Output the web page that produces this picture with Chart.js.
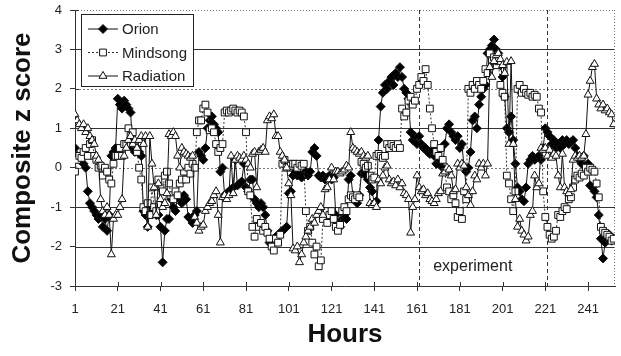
<!DOCTYPE html>
<html>
<head>
<meta charset="utf-8">
<script src="https://cdn.jsdelivr.net/npm/chart.js@4.4.1/dist/chart.umd.min.js"></script>
<style>
  html, body { margin: 0; padding: 0; background: #fff; }
  canvas { display: block; }
</style>
</head>
<body>
<canvas id="chart" width="621" height="356"></canvas>
<script>
//hours on the x axis, one reading per hour
const hours = [];
for (let h = 1; h <= 253; h++) hours.push(h);

const xTickValues = [1, 21, 41, 61, 81, 101, 121, 141, 161, 181, 201, 221, 241];
const experimentHours = [162, 222];

//composite z scores
const orion = [
  0.5, 0.3, 0.2, 0.3, 0.1, 0.0, -0.6, -0.9, -1.0, -1.1,
  -1.2, -1.3, -1.2, -1.5, -1.3, -1.6, -1.2, 0.3, 0.4, 0.5,
  1.75, 1.6, 1.5, 1.7, 1.6, 1.5, 1.4, 0.5, 0.4, 0.5,
  0.4, 0.3, -1.1, -1.2, -1.5, -1.1, -1.0, -1.1, -1.2, -1.2,
  -1.5, -2.4, -1.6, -1.3, -1.3, -0.8, -1.0, -1.1, -0.7, -0.8,
  -0.9, -0.7, -0.8, -1.25, -1.3, -1.4, -1.2, -1.1, 0.4, 0.3,
  0.2, 0.5, 1.0, 1.2, 1.3, 1.1, 1.0, 0.9, -0.1, 0.0,
  -0.7, -0.65, -0.6, -0.55, -0.5, 0.2, -0.45, -0.4, -0.35, 0.1,
  -0.5, -0.6, -0.3, -0.3, -0.8, -0.9, -1.0, -0.9, -1.0, -1.2,
  -1.6, -1.9, -1.85, -1.8, -1.75, -1.7, -1.65, -1.6, -1.55, -1.5,
  -0.65, -0.6, -0.2, -0.1, -0.2, -0.15, -0.25, -0.2, -0.1, -0.2,
  -0.1, 0.4, 0.5, 0.3, -0.2, -0.25, -0.2, -0.3, -0.25, -0.2,
  -0.3, -0.25, -1.2, -1.4, -1.5, -1.3, -1.2, -1.3, -0.3, -0.2,
  -0.7, -0.8, -0.9, -0.7, -0.15, -0.1, -0.2, -0.3, -0.5, -0.6,
  -0.9, -0.85, 0.7, 1.55, 1.9, 2.1, 2.0, 2.2, 2.3, 2.1,
  2.4, 2.3, 2.55, 2.3, 2.0, 1.9, 1.75, 0.9, 0.7, 0.8,
  0.6, 0.8, 0.6, 0.5, 0.5, 0.4, 0.35, 0.45, 0.3, 0.1,
  0.1, 0.2, 0.0, 0.6, 1.0, 1.1, 0.9, 0.8, 0.7, 0.8,
  0.5, 0.6, 0.0, -0.1, 0.0, 0.4, 1.2, 1.3, 1.0, 1.6,
  1.8, 2.0, 2.1, 2.9, 3.0, 3.1, 3.25, 3.0, 2.9, 2.6,
  2.3, 1.8, 1.0, 0.9, 1.3, 0.7, 0.1, -0.5, -0.6, -0.8,
  -0.85, -0.5, 0.1, 0.2, 0.3, 0.2, 0.25, 0.3, 0.2, 0.5,
  1.0, 0.9, 0.8, 0.6, 0.7, 0.5, 0.6, 0.5, 0.7, 0.6,
  0.7, 0.6, 0.65, 0.7, 0.5, 0.3, 0.2, 0.1, 0.3, 0.0,
  0.1, -0.45, -0.5, -0.6, -0.75, -1.2, -1.8, -2.3, -1.9, -1.8,
  -1.7, -1.85, -1.8,
];

const mindsong = [
  -0.1, 0.2, 0.3, 0.25, 0.4, 0.5, 0.3, 0.6, 0.7, 0.3,
  0.2, 0.0, 0.05, -0.2, 0.0, -0.1, -0.3, -0.4, 0.1, 0.3,
  0.3, 0.5, 0.3, 0.6, 0.6, 1.0, 0.8, 0.9, 0.6, 0.4,
  0.0, -0.3, -1.0, -1.1, -0.9, -1.2, -0.5, -1.0, -1.1, -0.3,
  -0.5, -0.6, -0.2, -0.1, -0.4, -0.7, -0.8, -0.6, -0.7, -0.4,
  -0.3, -0.1, -0.3, 0.0, -0.15, 0.1, 0.0, 0.9, 1.2, 1.2,
  1.5, 1.6, 1.4, 0.95, 1.0, 0.9, 0.6, 0.4, 0.5, 0.6,
  1.4, 1.45, 1.4, 1.45, 1.5, 1.45, 1.4, 1.45, 1.4, 1.3,
  0.9, -0.6, -0.7, -1.5, -1.75, -1.3, -1.5, -1.4, -1.6, -1.5,
  -1.65, -1.8, -2.0, -2.1, -1.8, -1.9, -1.7, 0.1, 0.2, 0.0,
  0.1, 0.05, 0.1, 0.1, 0.0, 0.1, 0.05, 0.1, -1.1, -1.6,
  -1.5, -1.9, -2.2, -2.0, -2.5, -2.35, -1.3, -1.1, -1.4, -1.2,
  -1.1, -1.3, -1.5, -1.6, -1.45, -1.1, -1.0, -1.1, -0.8, -0.7,
  -0.75, -0.8, -0.7, -0.75, 0.15, 0.1, 0.0, 0.05, -0.2, -0.3,
  -0.25, 0.3, 0.35, 0.3, 0.25, 0.3, 0.6, 0.5, 0.6, 0.55,
  0.5, 0.6, 0.5, 1.5, 1.3, 1.4, 1.7, 1.8, 1.6, 1.7,
  2.0, 2.1, 2.3, 2.2, 2.5, 2.1, 1.5, 1.0, 0.6, 0.4,
  0.3, 0.5, 0.2, -0.1, -0.5, -0.6, -0.8, -0.7, -0.9, -1.25,
  -1.1, -1.3, -0.6, -0.8, 2.0, 1.9, 2.1, 2.0, 2.2, 2.1,
  2.0, 2.2, 2.5, 2.4, 2.9, 2.7, 2.8, 2.6, 2.7, 2.1,
  1.9, 1.8, -0.2, -0.4, -0.8, -1.1, -0.6, 2.0, 2.1, 1.9,
  2.0, 1.9, 1.85, 1.9, 1.8, 1.85, 1.8, 1.5, 1.4, -0.6,
  -1.25, -1.5, -1.7, -1.8, -1.75, -1.6, -1.2, -1.25, -1.1, -1.0,
  -1.05, -0.8, -0.75, -0.5, -0.3, -0.2, -0.25, -0.15, -0.2, 0.0,
  -0.1, 0.0, -0.05, -0.1, -0.4, -0.75, -1.5, -1.6, -1.65, -1.7,
  -1.75, -1.85, -1.8,
];

const radiation = [
  1.35, 1.2, 1.1, 1.0, 1.1, 0.9, 1.0, 0.8, 0.7, 0.6,
  0.3, 0.2, -0.8, -1.1, -1.2, -1.0, -1.2, -2.2, -1.3, -1.2,
  -1.2, -1.0, -0.8, 0.3, 0.5, 0.7, 0.8, 0.6, 0.7, 0.5,
  0.7, 0.8, 0.6, 0.8, -1.5, 0.8, 0.1, -0.5, -1.2, -0.4,
  -0.8, -1.0, -0.9, -0.65, 0.85, 0.8, 0.9, 0.8, 0.3, 0.0,
  0.5, 0.4, 0.35, 0.3, 0.25, 0.3, -1.25, -1.4, -1.6, -1.5,
  -1.45, -1.1, -1.0, -0.9, -0.85, -0.7, -0.6, -1.2, -1.9, -0.75,
  -0.7, -0.8, -0.7, 0.3, -0.65, 0.2, 0.3, 0.25, 0.2, 0.3,
  0.2, 0.1, 0.0, 0.35, 0.4, -0.5, 0.4, 0.45, 0.5, 0.4,
  1.2, 1.3, 1.25, 1.35, 0.8, 0.8, 0.4, 0.3, 0.2, 0.0,
  -0.4, -0.7, -2.05, -2.1, -2.0, -2.4, -2.2, -1.9, -1.75, -1.6,
  -1.5, -1.3, -1.4, -1.2, -1.1, -1.0, -1.2, -0.55, -0.5, -0.3,
  0.0, -0.3, -0.1, -0.1, -0.15, -0.1, -0.05, 0.05, 0.0, 0.9,
  0.5, 0.45, 0.4, 0.35, 0.4, 0.3, 0.25, 0.3, -0.9, -0.95,
  -0.9, -1.0, -0.3, -0.4, -0.2, 0.0, 0.05, -0.3, -0.4, -0.35,
  -0.45, -0.3, -0.5, -0.4, -0.65, -0.7, -0.8, -1.65, -1.0, -0.8,
  -0.2, -0.5, -0.6, -0.55, -0.7, -0.65, -0.8, -0.85, -0.9, -0.8,
  -0.65, -0.6, -0.15, -0.1, 0.0, -0.05, -0.2, -0.6, -0.55, 0.1,
  0.0, 0.1, 0.05, -0.5, -0.7, -0.95, -0.6, -0.2, -0.3, 0.1,
  0.0, 0.1, -0.2, 0.1, 2.55, 2.3, 2.7, 2.85, 2.9, 2.75,
  2.6, 2.4, 2.68, 0.6, 2.7, 0.6, -0.8, -1.5, -1.3, -1.6,
  -1.7, -1.85, -1.75, -1.2, -1.1, -0.2, -0.5, -0.4, 0.5, 0.45,
  0.5, 0.3, 0.45, 0.25, 0.35, 0.3, -0.2, -0.5, 0.35, -0.5,
  -0.6, -0.65, -0.55, 0.2, 0.3, 0.25, 0.3, 0.25, 0.3, 0.85,
  1.85, 2.2, 2.55, 2.63, 1.75, 1.6, 1.5, 1.6, 1.45, 1.5,
  1.4, 1.35, 1.1,
];

const fontFamily = '"Liberation Sans", Arial, sans-serif';
Chart.defaults.font.family = fontFamily;
Chart.defaults.color = '#222';

const seriesStyles = [
  { label: 'Orion', data: orion, pointStyle: 'rectRot', radius: 4.5, fill: '#000', dash: [] },
  { label: 'Mindsong', data: mindsong, pointStyle: 'rect', radius: 4.8, fill: '#fff', dash: [2, 2] },
  { label: 'Radiation', data: radiation, pointStyle: 'triangle', radius: 4.6, fill: '#fff', dash: [] },
];

//grid lines, experiment markers and the boxed legend
const decorPlugin = {
  id: 'decor',
  beforeDatasetsDraw(chart) {
    const { ctx, chartArea: a, scales } = chart;
    const x = scales.x;
    const y = scales.y;
    ctx.save();
    ctx.lineWidth = 1;

    //solid and dotted horizontal lines
    const hLine = (v, color, dash) => {
      const py = Math.round(y.getPixelForValue(v)) + 0.5;
      ctx.strokeStyle = color;
      ctx.setLineDash(dash);
      ctx.beginPath();
      ctx.moveTo(a.left, py);
      ctx.lineTo(a.right, py);
      ctx.stroke();
    };
    [3, 1, -1, -2].forEach((v) => hLine(v, '#333', []));
    [2, 0].forEach((v) => hLine(v, '#777', [2, 2]));
    hLine(4, '#777', [1, 2]);

    //dotted right border
    ctx.strokeStyle = '#777';
    ctx.setLineDash([1, 2]);
    ctx.beginPath();
    ctx.moveTo(Math.round(a.right) - 0.5, a.top);
    ctx.lineTo(Math.round(a.right) - 0.5, a.bottom);
    ctx.stroke();

    //experiment window
    ctx.strokeStyle = '#333';
    ctx.setLineDash([4, 3]);
    experimentHours.forEach((h) => {
      const px = Math.round(x.getPixelForValue(h)) + 0.5;
      ctx.beginPath();
      ctx.moveTo(px, a.top);
      ctx.lineTo(px, a.bottom);
      ctx.stroke();
    });
    ctx.setLineDash([]);
    ctx.fillStyle = '#222';
    ctx.font = '16px ' + fontFamily;
    ctx.textAlign = 'left';
    ctx.textBaseline = 'middle';
    ctx.fillText('experiment', x.getPixelForValue(experimentHours[0]) + 14, y.getPixelForValue(-2.5));

    //tick marks crossing into the plot
    ctx.strokeStyle = '#333';
    y.ticks.forEach((t) => {
      const py = Math.round(y.getPixelForValue(t.value)) + 0.5;
      ctx.beginPath();
      ctx.moveTo(a.left, py);
      ctx.lineTo(a.left + 4, py);
      ctx.stroke();
    });
    x.ticks.forEach((t) => {
      const px = Math.round(x.getPixelForValue(t.value)) + 0.5;
      ctx.beginPath();
      ctx.moveTo(px, a.bottom);
      ctx.lineTo(px, a.bottom - 4);
      ctx.stroke();
    });
    ctx.restore();
  },
  afterDatasetsDraw(chart) {
    const { ctx } = chart;
    ctx.save();
    ctx.fillStyle = '#fff';
    ctx.fillRect(81, 14, 112, 72);
    ctx.strokeStyle = '#222';
    ctx.lineWidth = 1;
    ctx.strokeRect(81.5, 14.5, 112, 72);

    seriesStyles.forEach((s, i) => {
      const cy = 29 + i * 23.5;
      ctx.strokeStyle = s.dash.length ? '#333' : '#111';
      ctx.setLineDash(s.dash);
      ctx.beginPath();
      ctx.moveTo(88, cy);
      ctx.lineTo(118, cy);
      ctx.stroke();
      ctx.setLineDash([]);
      ctx.fillStyle = s.fill;
      ctx.strokeStyle = '#111';
      Chart.helpers.drawPoint(ctx, { pointStyle: s.pointStyle, radius: s.radius, rotation: 0, borderWidth: 1 }, 103, cy);
      ctx.fillStyle = '#222';
      ctx.font = '15px ' + fontFamily;
      ctx.textAlign = 'left';
      ctx.textBaseline = 'middle';
      ctx.fillText(s.label, 122, cy + 1);
    });
    ctx.restore();
  },
};

const datasets = seriesStyles.map((s, i) => ({
  label: s.label,
  data: s.data,
  borderColor: s.dash.length ? '#333' : '#111',
  borderWidth: 1,
  borderDash: s.dash,
  pointStyle: s.pointStyle,
  pointRadius: s.radius,
  pointBackgroundColor: s.fill,
  pointBorderColor: '#111',
  pointBorderWidth: 1,
  tension: 0,
  order: 3 - i,
}));

new Chart(document.getElementById('chart'), {
  type: 'line',
  data: { labels: hours, datasets: datasets },
  options: {
    responsive: false,
    animation: false,
    events: [],
    layout: { padding: { left: 0, right: 6, top: 10, bottom: 0 } },
    plugins: { legend: { display: false }, tooltip: { enabled: false } },
    scales: {
      x: {
        type: 'linear',
        min: 1,
        max: 253.6,
        afterBuildTicks: (scale) => {
          scale.ticks = xTickValues.map((v) => ({ value: v }));
        },
        afterFit: (scale) => {
          scale.height = 70;
          scale.paddingLeft = 0;
          scale.paddingRight = 0;
        },
        grid: { drawOnChartArea: false, tickLength: 5, color: '#333' },
        border: { color: '#333' },
        ticks: { font: { size: 13 }, color: '#222', padding: 11, maxRotation: 0, autoSkip: false },
        title: {
          display: true,
          text: 'Hours',
          color: '#111',
          font: { size: 26, weight: 'bold' },
          padding: { top: 0, bottom: 6 },
        },
      },
      y: {
        min: -3,
        max: 4,
        afterFit: (scale) => {
          scale.width = 75;
          scale.paddingTop = 0;
          scale.paddingBottom = 0;
        },
        grid: { drawOnChartArea: false, tickLength: 5, color: '#333' },
        border: { color: '#333' },
        ticks: { stepSize: 1, font: { size: 13 }, color: '#222', padding: 8 },
        title: {
          display: true,
          text: 'Composite z score',
          color: '#111',
          font: { size: 26, weight: 'bold' },
          padding: { top: 7, bottom: 0 },
        },
      },
    },
  },
  plugins: [decorPlugin],
});
</script>
</body>
</html>
